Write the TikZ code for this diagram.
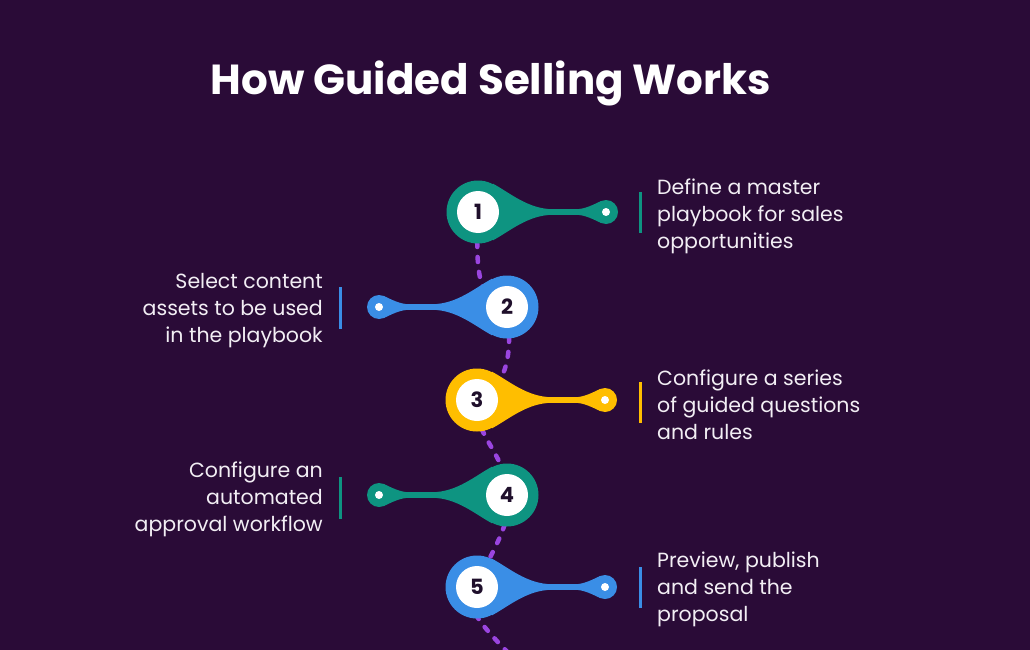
\documentclass[tikz,border=0pt]{standalone}
\usepackage{fontspec}
\setmainfont{Poppins}
\usepackage{tikz}
\usetikzlibrary{positioning}
\definecolor{nightplum}{HTML}{2A0B37}
\definecolor{pinteal}{HTML}{0E9481}
\definecolor{pinblue}{HTML}{3A8EE6}
\definecolor{pinyellow}{HTML}{FFBE00}
\definecolor{linkviolet}{HTML}{9A45E0}
\definecolor{numink}{HTML}{1F0F2B}
\definecolor{noteink}{HTML}{F2EEF4}
\pgfdeclarelayer{canvas}
\pgfdeclarelayer{links}
\pgfsetlayers{canvas,links,main}

\begin{document}
\begin{tikzpicture}[x=1pt,y=-1pt,line cap=round,line join=round,
  pin/.pic={
    \fill[pic actions] (15,-28.3) .. controls (31,-19.8) and (50,-2.8) .. (75,-2.8) -- (98,-2.8)
      .. controls (107,-2.8) and (115.6,-7.5) .. (122.9,-10.9) -- (128,0) -- (122.9,10.9)
      .. controls (115.6,7.5) and (107,2.8) .. (98,2.8) -- (75,2.8)
      .. controls (50,2.8) and (31,19.8) .. (15,28.3) -- (0,0) -- cycle;
    \fill[pic actions] (0,0) circle[radius=31.5pt];
    \fill[pic actions] (128,0) circle[radius=12pt];
    \fill[white] (128,0) circle[radius=4pt];
  },
  numdot/.style={circle,fill=white,minimum size=42pt,inner sep=0pt,text=numink,
    font=\bfseries\fontsize{21}{21}\selectfont},
  link/.style={draw=linkviolet,line width=4.5pt,dash pattern=on 5pt off 10pt,line cap=round},
  stepnote/.style={text=noteink,inner sep=0pt,font=\fontsize{20.5}{27}\selectfont},
  notebar/.style={line width=3pt,line cap=butt}]
\useasboundingbox (0,0) rectangle (1030,650);
\begin{pgfonlayer}{canvas}
\fill[nightplum] (0,0) rectangle (1030,650);
\end{pgfonlayer}

% title
\node[text=white,font=\bfseries\fontsize{42}{46}\selectfont,anchor=base] (title) at (491,95) {How Guided Selling Works};

% pins
\pic[fill=pinteal] at (478,212) {pin};
\pic[fill=pinblue,xscale=-1] at (507,307) {pin};
\pic[fill=pinyellow] at (477,400) {pin};
\pic[fill=pinteal,xscale=-1] at (507,495) {pin};
\pic[fill=pinblue] at (477,587) {pin};

\node[numdot] (s1) at (478,212) {1};
\node[numdot] (s2) at (507,307) {2};
\node[numdot] (s3) at (477,400) {3};
\node[numdot] (s4) at (507,495) {4};
\node[numdot] (s5) at (477,587) {5};
\coordinate (tailend) at (520,665);

% dashed path behind the pins
\begin{pgfonlayer}{links}
\draw[link] (s1.center) .. controls (475,280) and (480,300) .. (s2.center);
\draw[link] (s2.center) .. controls (512,350) and (510,385) .. (s3.center);
\draw[link] (s3.center) .. controls (472,435) and (508,455) .. (s4.center);
\draw[link] (s4.center) .. controls (514,525) and (485,560) .. (s5.center);
\draw[link] (s5.center) .. controls (462,605) and (478,622) .. (tailend);
\end{pgfonlayer}

% notes
\node[stepnote,anchor=west,align=left] (n1) at (657,216) {Define a master\\playbook for sales\\opportunities};
\node[stepnote,anchor=east,align=right] (n2) at (323,311) {Select content\\assets to be used\\in the playbook};
\node[stepnote,anchor=west,align=left] (n3) at (657,405) {Configure a series\\of guided questions\\and rules};
\node[stepnote,anchor=east,align=right] (n4) at (323,499) {Configure an\\automated\\approval workflow};
\node[stepnote,anchor=west,align=left] (n5) at (657,589) {Preview, publish\\and send the\\proposal};

\draw[notebar,pinteal] (640,192) -- (640,233);
\draw[notebar,pinblue] (340,287) -- (340,329);
\draw[notebar,pinyellow] (640,382) -- (640,423);
\draw[notebar,pinteal] (340,477) -- (340,519);
\draw[notebar,pinblue] (640,567) -- (640,608);
\end{tikzpicture}
\end{document}
